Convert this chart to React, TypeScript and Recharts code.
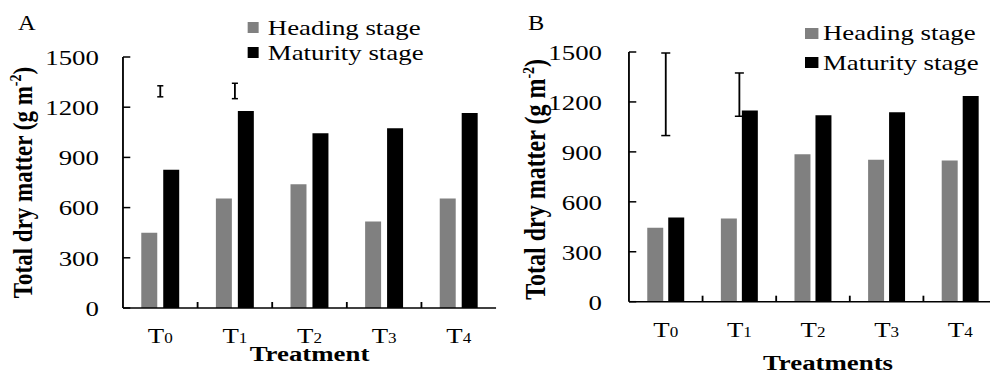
import React from 'react';
import { ComposedChart, Bar, Line, XAxis, YAxis, ErrorBar, Label, CartesianGrid } from 'recharts';

// ---- data ----
const categories = ['T0', 'T1', 'T2', 'T3', 'T4'];
const yTicks = [0, 300, 600, 900, 1200, 1500];
const seriesNames = ['Heading stage', 'Maturity stage'];

const headingA = [450, 655, 740, 517, 655];
const maturityA = [826, 1177, 1044, 1074, 1165];
const lsdCenterA = [1295, 1297, null, null, null];
const lsdErrA = [33, 46, null, null, null];

const headingB = [444, 500, 886, 852, 848];
const maturityB = [506, 1148, 1120, 1138, 1236];
const lsdCenterB = [1246, 1244, null, null, null];
const lsdErrB = [248, 130, null, null, null];

const FONT = '"Liberation Serif", "Times New Roman", Times, serif';
const GRAY = '#808080';
const BLACK = '#000000';
const S = 1.22; // horizontal stretch of the original figure
const TICK_LEN = 6;

const buildRows = (h: number[], m: number[], c: (number | null)[], e: (number | null)[]) =>
  categories.map((cat, i) => ({ cat, heading: h[i], maturity: m[i], lsd: c[i], lsdErr: e[i] }));

const makeXTick = (count: number) => (props: any) => {
  const { x, y, payload, index } = props;
  const s = String(payload.value);
  const half = payload && typeof payload.offset === 'number' ? payload.offset : null;
  return (
    <g>
      {half !== null && index < count - 1 ? (
        <line x1={x + half} x2={x + half} y1={y} y2={y - TICK_LEN} stroke={BLACK} strokeWidth={1.5} />
      ) : null}
      <text x={x} y={y + 35} textAnchor="middle" fill={BLACK} fontFamily={FONT} fontSize={22}>
        <tspan>{s.slice(0, 1)}</tspan>
        <tspan fontSize={14}>{s.slice(1)}</tspan>
      </text>
    </g>
  );
};

const YTick = (props: any) => {
  const { x, y, payload } = props;
  return (
    <text x={x} y={y} dy="0.355em" textAnchor="end" fill={BLACK} fontFamily={FONT} fontSize={22}>
      {payload.value}
    </text>
  );
};

// short inward tick marks on the y axis, placed by the grid at the y-axis tick positions
const innerYTick = (p: any) => (
  <line
    key={`ytick-${p.index}`}
    x1={p.x1}
    x2={p.x1 + TICK_LEN}
    y1={p.y1}
    y2={p.y2}
    stroke={BLACK}
    strokeWidth={1.5}
  />
);

type PanelCfg = {
  left: number;
  letter: string;
  letterLeft: number;
  rows: any[];
  marginTop: number;
  xAxisH: number;
  marginRight: number;
  yAxisW: number;
  yTickMargin: number;
  yLabelX: number;
  yLabelDy: number;
  yLabelSize: number;
  xLabel: string;
  xLabelBaseline: number;
  xLabelDx: number;
  errHalf: number;
  barSize: number;
  barGap: number;
  legendLeft: number;
  legendTop: number;
  legendRowH: number;
  legendSqW: number;
  legendSqH: number;
  legendGap: number;
};

const Panel = ({ cfg }: { cfg: PanelCfg }) => {
  const yLabelContent = (props: any) => {
    const vb = props.viewBox || {};
    const cx = cfg.yLabelX;
    const cy = (vb.y ?? 0) + (vb.height ?? 0) / 2 + cfg.yLabelDy;
    return (
      <text
        x={cx}
        y={cy}
        transform={`rotate(-90, ${cx}, ${cy})`}
        textAnchor="middle"
        fill={BLACK}
        fontFamily={FONT}
        fontWeight="bold"
        fontSize={cfg.yLabelSize}
      >
        <tspan>Total dry matter (g m</tspan>
        <tspan dy={-9} fontSize={14}>-2</tspan>
        <tspan dy={9}>)</tspan>
      </text>
    );
  };
  const xLabelContent = (props: any) => {
    const vb = props.viewBox || {};
    return (
      <text
        x={(vb.x ?? 0) + (vb.width ?? 0) / 2 + cfg.xLabelDx}
        y={(vb.y ?? 0) + cfg.xLabelBaseline}
        textAnchor="middle"
        fill={BLACK}
        fontFamily={FONT}
        fontWeight="bold"
        fontSize={22}
      >
        {cfg.xLabel}
      </text>
    );
  };
  const colors = [GRAY, BLACK];
  const XTick = makeXTick(categories.length);
  return (
    <div
      style={{
        position: 'absolute',
        left: cfg.left,
        top: 0,
        width: 410,
        height: 374,
        transform: `scaleX(${S})`,
        transformOrigin: '0 0',
      }}
    >
      <div
        style={{
          position: 'absolute',
          left: cfg.letterLeft,
          top: 13.3,
          fontFamily: FONT,
          fontSize: 20,
          lineHeight: '20px',
          color: BLACK,
        }}
      >
        {cfg.letter}
      </div>
      <div style={{ position: 'absolute', left: cfg.legendLeft, top: cfg.legendTop, fontFamily: FONT, fontSize: 22 }}>
        {seriesNames.map((n, i) => (
          <div key={n} style={{ display: 'flex', alignItems: 'center', height: cfg.legendRowH, whiteSpace: 'nowrap' }}>
            <span style={{ display: 'inline-block', width: cfg.legendSqW, height: cfg.legendSqH, background: colors[i], marginRight: cfg.legendGap }} />
            <span style={{ lineHeight: `${cfg.legendRowH}px`, color: BLACK }}>{n}</span>
          </div>
        ))}
      </div>
      <ComposedChart
        width={410}
        height={374}
        data={cfg.rows}
        margin={{ top: cfg.marginTop, right: cfg.marginRight, bottom: 0, left: 0 }}
        barGap={cfg.barGap}
      >
        <CartesianGrid vertical={false} horizontal={innerYTick} stroke={BLACK} />
        <XAxis
          dataKey="cat"
          type="category"
          interval={0}
          height={cfg.xAxisH}
          tickSize={0}
          tickMargin={0}
          tickLine={false}
          axisLine={{ stroke: BLACK, strokeWidth: 1.5 }}
          tick={XTick}
        >
          <Label content={xLabelContent} />
        </XAxis>
        <YAxis
          type="number"
          domain={[0, 1500]}
          ticks={yTicks}
          interval={0}
          allowDataOverflow
          width={cfg.yAxisW}
          tickSize={0}
          tickMargin={cfg.yTickMargin}
          tickLine={false}
          axisLine={{ stroke: BLACK, strokeWidth: 1.5 }}
          tick={YTick}
        >
          <Label content={yLabelContent} />
        </YAxis>
        <Bar dataKey="heading" name={seriesNames[0]} fill={GRAY} barSize={cfg.barSize} isAnimationActive={false} />
        <Bar dataKey="maturity" name={seriesNames[1]} fill={BLACK} barSize={cfg.barSize} isAnimationActive={false} />
        <Line
          dataKey="lsd"
          stroke="none"
          dot={false}
          activeDot={false}
          legendType="none"
          isAnimationActive={false}
        >
          <ErrorBar dataKey="lsdErr" direction="y" width={cfg.errHalf} stroke={BLACK} strokeWidth={1.5} />
        </Line>
      </ComposedChart>
    </div>
  );
};

const panelA: PanelCfg = {
  left: 0,
  letter: 'A',
  letterLeft: 14.8,
  rows: buildRows(headingA, maturityA, lsdCenterA, lsdErrA),
  marginTop: 57,
  xAxisH: 66,
  marginRight: 3.4,
  yAxisW: 100.8,
  yTickMargin: 19.7,
  yLabelX: 26.2,
  yLabelDy: 0,
  yLabelSize: 23,
  xLabel: 'Treatment',
  xLabelBaseline: 53,
  xLabelDx: 0,
  errHalf: 2.5,
  barSize: 13.1,
  barGap: 4.9,
  legendLeft: 202.5,
  legendTop: 14.5,
  legendRowH: 25,
  legendSqW: 9,
  legendSqH: 11,
  legendGap: 8,
};

const panelB: PanelCfg = {
  left: 500,
  letter: 'B',
  letterLeft: 22.9,
  rows: buildRows(headingB, maturityB, lsdCenterB, lsdErrB),
  marginTop: 52,
  xAxisH: 72.3,
  marginRight: 2.6,
  yAxisW: 105.7,
  yTickMargin: 22.1,
  yLabelX: 36.9,
  yLabelDy: 2.5,
  yLabelSize: 24,
  xLabel: 'Treatments',
  xLabelBaseline: 68,
  xLabelDx: 12.3,
  errHalf: 3.7,
  barSize: 13.1,
  barGap: 4.1,
  legendLeft: 250,
  legendTop: 18.25,
  legendRowH: 29.5,
  legendSqW: 10.7,
  legendSqH: 11,
  legendGap: 4,
};

export default function App() {
  return (
    <div
      style={{
        position: 'absolute',
        left: 0,
        top: 0,
        width: 990,
        height: 374,
        overflow: 'hidden',
        background: '#ffffff',
      }}
    >
      <Panel cfg={panelA} />
      <Panel cfg={panelB} />
    </div>
  );
}
